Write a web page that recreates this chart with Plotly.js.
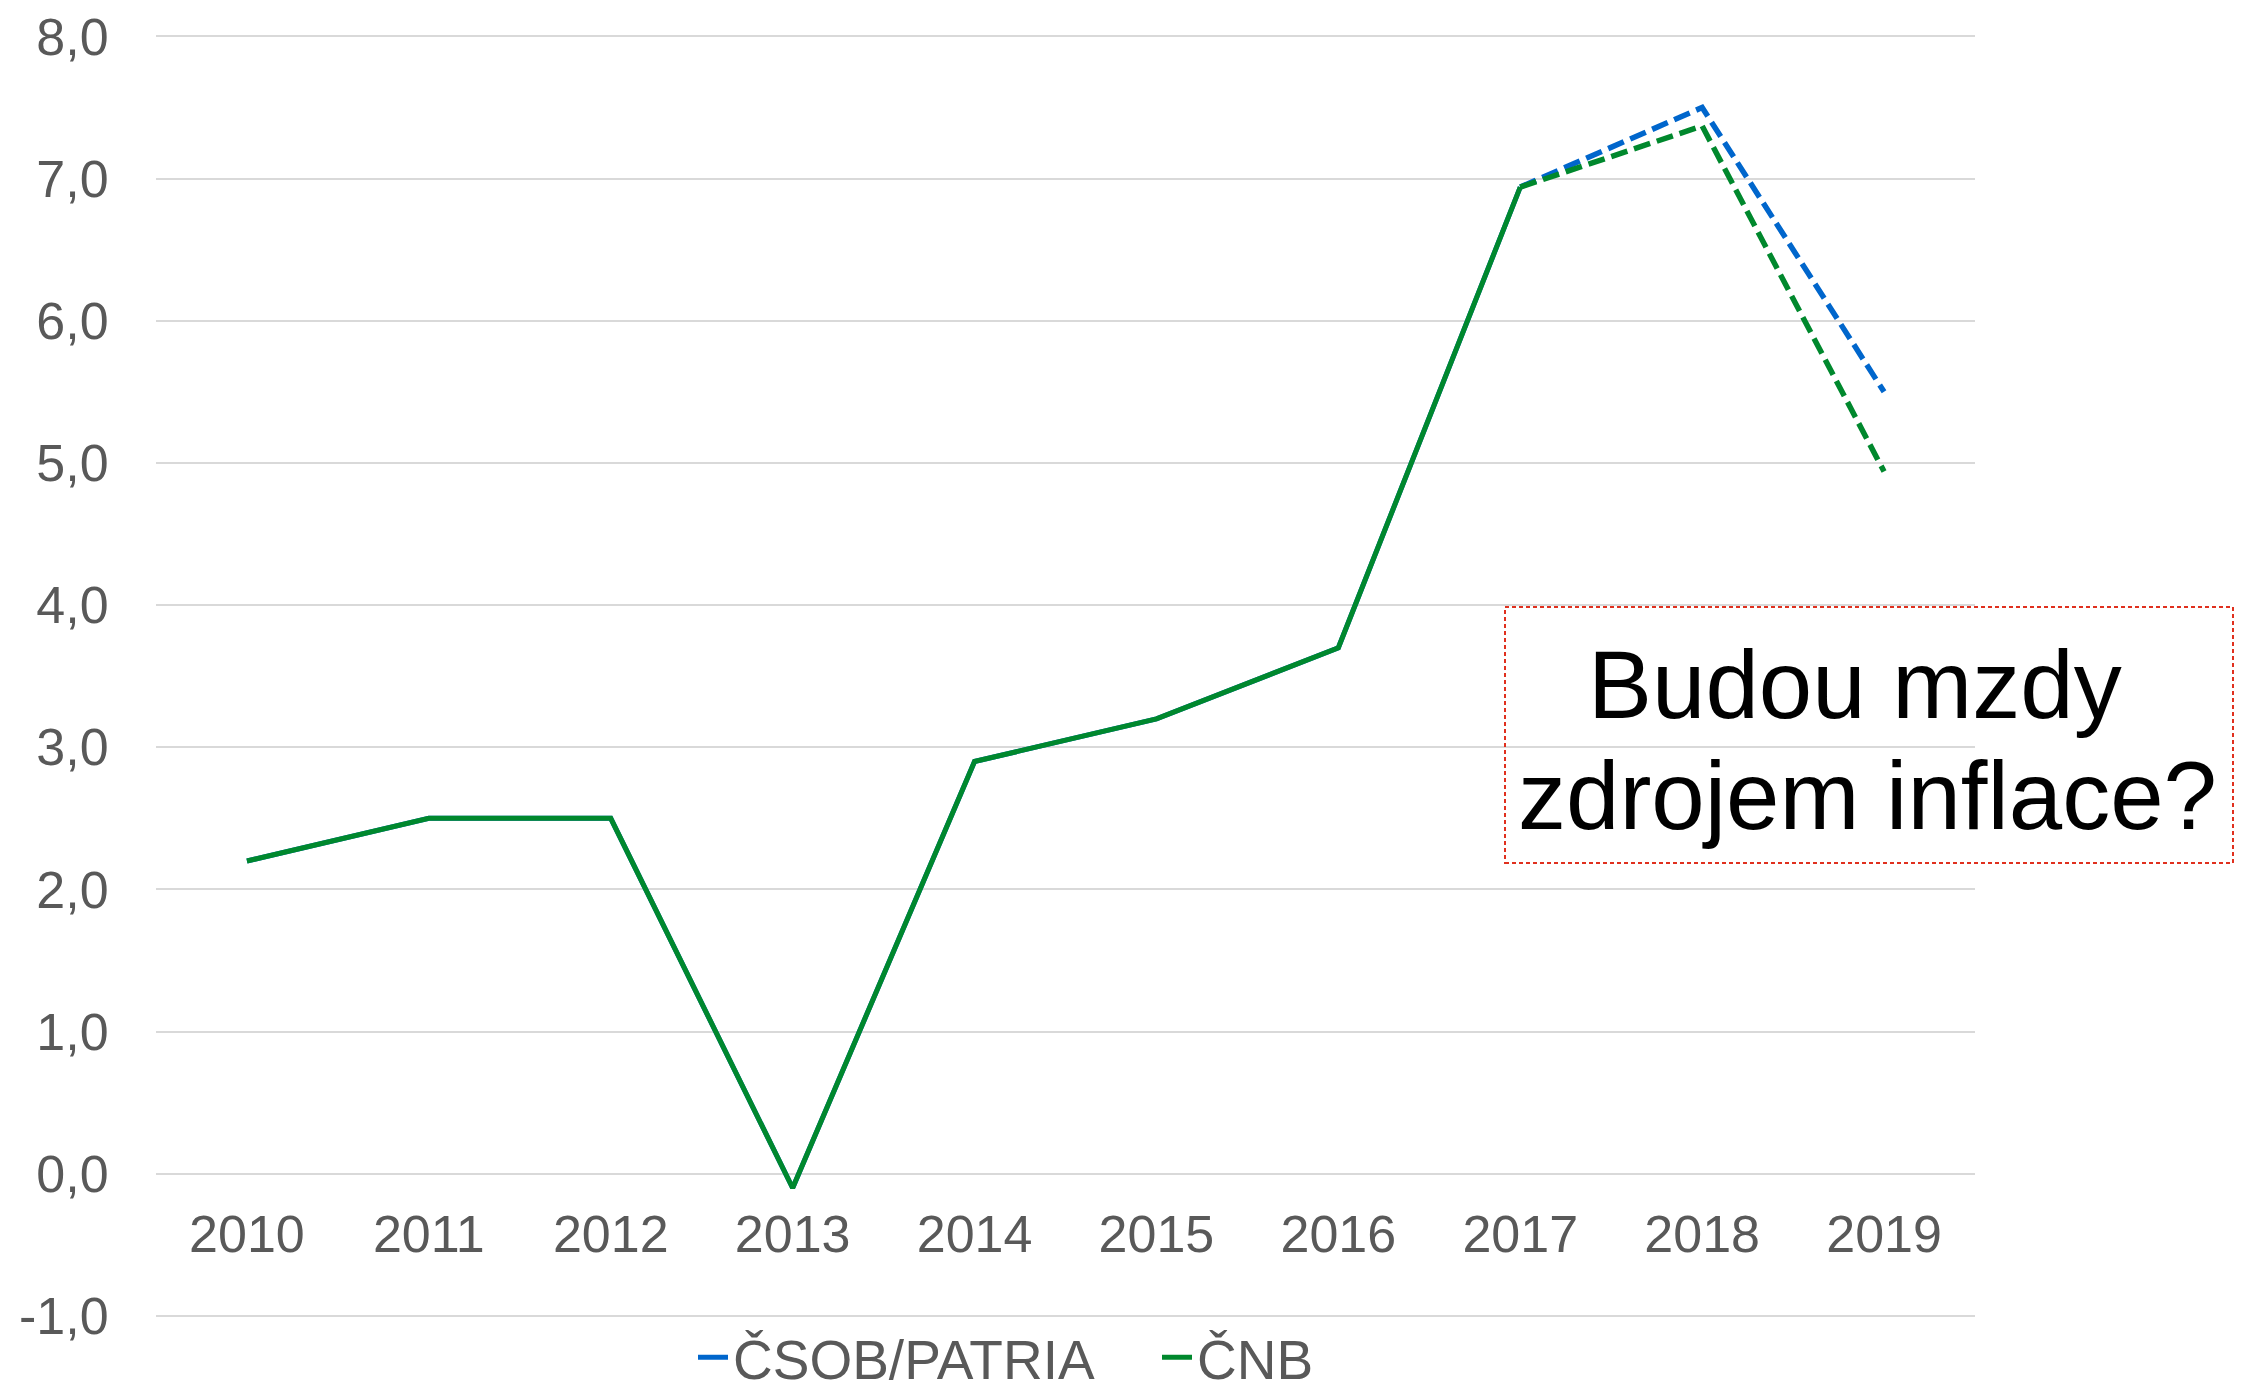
<!DOCTYPE html>
<html>
<head>
<meta charset="utf-8">
<script src="https://cdn.plot.ly/plotly-3.0.1.min.js"></script>
<style>html,body{margin:0;padding:0;background:#fff;}#chart{width:2252px;height:1400px;}</style>
</head>
<body>
<div id="chart"></div>
<script>
// Data
const years = ["2010","2011","2012","2013","2014","2015","2016","2017"];
const forecastYears = ["2017","2018","2019"];
const historyValues = [2.2, 2.5, 2.5, -0.1, 2.9, 3.2, 3.7, 6.94];
const csobForecast = [6.94, 7.5, 5.5];
const cnbForecast = [6.94, 7.37, 4.94];
const allYears = ["2010","2011","2012","2013","2014","2015","2016","2017","2018","2019"];
const yTickVals = [-1, 0, 1, 2, 3, 4, 5, 6, 7, 8];
const yTickText = ["-1,0","0,0","1,0","2,0","3,0","4,0","5,0","6,0","7,0","8,0"];
const seriesNames = ["ČSOB/PATRIA", "ČNB"];
const noteLines = ["Budou mzdy", "zdrojem inflace?"];

const BLUE = "#0066CC";
const GREEN = "#00882D";
const GREY = "#595959";
const FONT = "Liberation Sans, Arial, sans-serif";

const traces = [
  {x: years, y: historyValues, name: seriesNames[0], type: "scatter", mode: "lines",
   line: {color: BLUE, width: 5}, hoverinfo: "skip"},
  {x: forecastYears, y: csobForecast, name: seriesNames[0], type: "scatter", mode: "lines",
   line: {color: BLUE, width: 5.5, dash: "17px,7px"}, showlegend: false, hoverinfo: "skip"},
  {x: years, y: historyValues, name: seriesNames[1], type: "scatter", mode: "lines",
   line: {color: GREEN, width: 5}, hoverinfo: "skip"},
  {x: forecastYears, y: cnbForecast, name: seriesNames[1], type: "scatter", mode: "lines",
   line: {color: GREEN, width: 5.5, dash: "17px,7px"}, showlegend: false, hoverinfo: "skip"}
];

// paper area: left 156, right 1975, top 35, bottom 1400
const H = 1365;
const py = v => (1400 - v) / H;
const px = v => (v - 156) / 1819;

const layout = {
  width: 2252, height: 1400,
  paper_bgcolor: "#fff", plot_bgcolor: "#fff",
  margin: {l: 156, r: 277, t: 35, b: 0, pad: 0, autoexpand: false},
  font: {family: FONT, color: GREY, size: 52},
  showlegend: true,
  legend: {orientation: "h", x: px(693), xanchor: "left", y: 0, yanchor: "bottom",
           font: {family: FONT, size: 55, color: GREY}, bgcolor: "rgba(0,0,0,0)",
           entrywidth: 419, entrywidthmode: "pixels", borderwidth: 0},
  xaxis: {type: "category", categoryarray: allYears, categoryorder: "array",
          range: [-0.5, 9.5], anchor: "free", position: py(1174),
          showgrid: false, showline: false, zeroline: false,
          ticks: "outside", ticklen: 15, tickcolor: "rgba(0,0,0,0)",
          tickfont: {family: FONT, size: 52, color: GREY}, fixedrange: true},
  yaxis: {range: [-1.01, 8.01], domain: [py(1317.4), 1], tickmode: "array", tickvals: yTickVals, ticktext: yTickText,
          showgrid: true, gridcolor: "#D9D9D9", gridwidth: 2,
          zeroline: true, zerolinecolor: "#D9D9D9", zerolinewidth: 2,
          showline: false, ticks: "outside", ticklen: 36, tickcolor: "rgba(0,0,0,0)",
          tickfont: {family: FONT, size: 52, color: GREY}, fixedrange: true},
  shapes: [
    {type: "rect", xref: "paper", yref: "paper", x0: px(1505), x1: px(2233), y0: py(863), y1: py(607),
     line: {color: "#E0301E", width: 2, dash: "4px,3px"}, fillcolor: "rgba(0,0,0,0)"}
  ],
  annotations: [
    {xref: "paper", yref: "paper", x: px(1855), y: py(684), xanchor: "center", yanchor: "middle",
     text: noteLines[0], showarrow: false, font: {family: FONT, size: 96, color: "#000"}},
    {xref: "paper", yref: "paper", x: px(1867), y: py(795), xanchor: "center", yanchor: "middle",
     text: noteLines[1], showarrow: false, font: {family: FONT, size: 96, color: "#000"}}
  ]
};

Plotly.newPlot("chart", traces, layout, {staticPlot: true, displayModeBar: false});
</script>
</body>
</html>
